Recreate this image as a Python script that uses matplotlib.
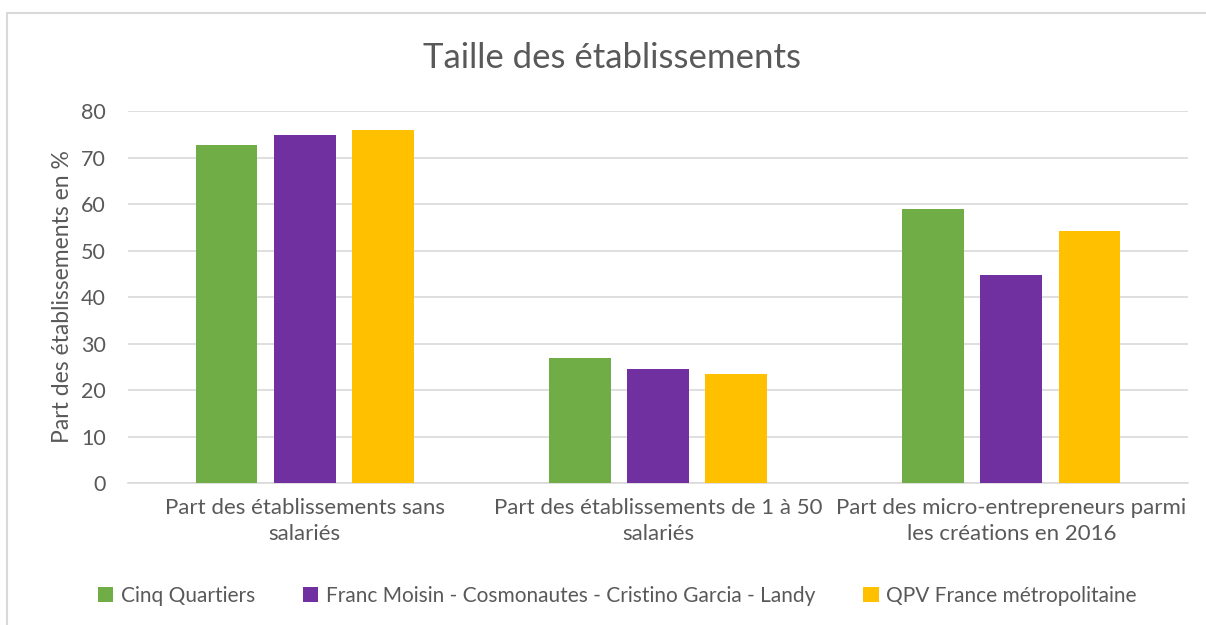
import numpy as np
import matplotlib.pyplot as plt
from matplotlib.patches import Rectangle

categories = ["Part des établissements sans\nsalariés",
              "Part des établissements de 1 à 50\nsalariés",
              "Part des micro-entrepreneurs parmi\nles créations en 2016"]
series_names = ["Cinq Quartiers",
                "Franc Moisin - Cosmonautes - Cristino Garcia - Landy",
                "QPV France métropolitaine"]
cinq = [72.6, 26.9, 59.0]
franc = [74.8, 24.6, 44.8]
qpv = [75.9, 23.5, 54.2]
colors = ["#70AD47", "#7030A0", "#FFC000"]

plt.rcParams['font.family'] = ['Lato', 'DejaVu Sans']
txt = "#595959"

fig = plt.figure(figsize=(12.06, 6.25), dpi=100)
ax = fig.add_axes([128/1206, 1-483/625, 1060/1206, 372/625])

x = np.arange(len(categories))
w = 0.175
step = 0.221
for i, (vals, name) in enumerate(zip([cinq, franc, qpv], series_names)):
    ax.bar(x + (i-1)*step, vals, w, color=colors[i], label=name, zorder=3)

ax.set_xlim(-0.5, 2.5)
ax.set_ylim(0, 80)
ax.set_yticks(range(0, 81, 10))
ax.grid(axis='y', color="#D9D9D9", linewidth=1.2, zorder=0)
for s in ["top", "right", "left"]:
    ax.spines[s].set_visible(False)
ax.spines["bottom"].set_color("#D9D9D9")
ax.spines["bottom"].set_linewidth(1.2)
ax.tick_params(length=0, colors=txt, labelsize=15.5)
ax.tick_params(axis='y', pad=16)
ax.tick_params(axis='x', pad=11)
ax.set_xticks(x)
ax.set_xticklabels(categories, fontsize=16, color=txt, linespacing=1.35)
ax.set_ylabel("Part des établissements en %", fontsize=16.5, color=txt, labelpad=6)

fig.text(612/1206, 1-58/625, "Taille des établissements", fontsize=25, color=txt,
         ha='center', va='center')

leg = fig.legend(loc='center', bbox_to_anchor=(617/1206, 1-596/625), ncol=3, frameon=False,
                 fontsize=15, handlelength=0.75, handleheight=0.75, handletextpad=0.35,
                 columnspacing=2.3)
for t in leg.get_texts():
    t.set_color(txt)

fig.patches.append(Rectangle((7/1206, -0.1), 1.2, 1-13/625+0.1, transform=fig.transFigure,
                             fill=False, edgecolor="#D9D9D9", linewidth=1.5))

fig.savefig("out.png", dpi=100)
